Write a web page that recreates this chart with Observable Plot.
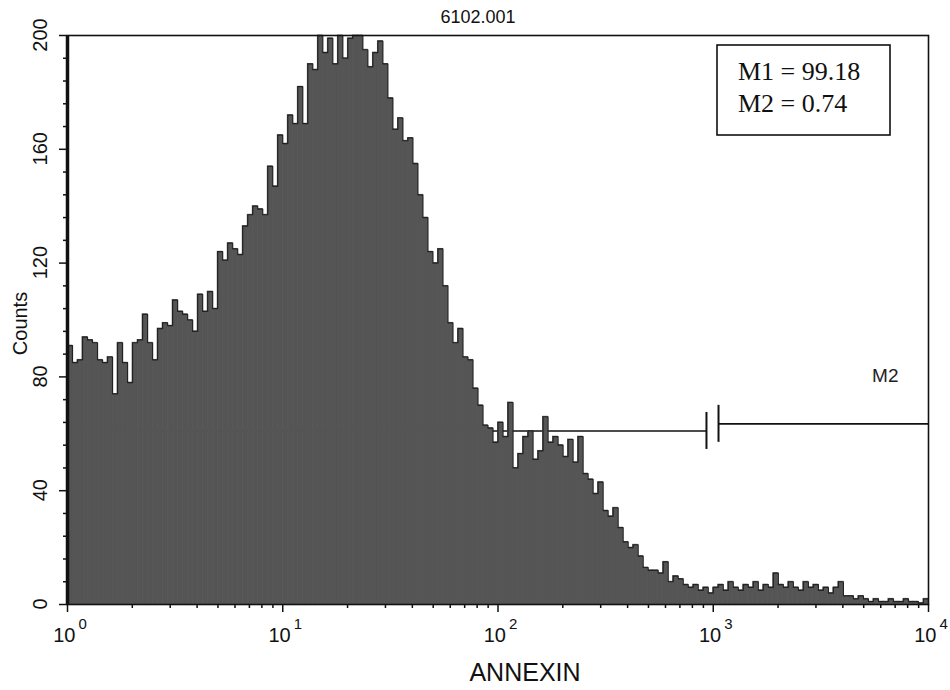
<!DOCTYPE html>
<html><head><meta charset="utf-8">
<script src="https://cdn.jsdelivr.net/npm/d3@7"></script>
<script src="https://cdn.jsdelivr.net/npm/@observablehq/plot@0.6"></script>
<style>
html,body{margin:0;padding:0;background:#fff;}
</style>
</head><body><div id="chart"></div>
<script>
const title = "6102.001";
const xLabel = "ANNEXIN";
const yLabel = "Counts";
const channelsPerDecade = 43;
const counts = [
  91,85,86,94,93,92,86,85,87,74,
  92,85,78,92,93,102,92,86,97,99,
  98,107,103,102,100,96,109,103,110,104,
  124,121,127,125,123,133,137,140,139,137,
  154,147,165,162,172,169,182,169,190,188,
  200,194,199,190,200,192,199,200,200,195,
  189,194,198,190,178,167,171,163,164,155,
  144,136,124,120,125,112,99,92,97,87,
  86,76,70,63,62,57,64,59,71,48,
  53,59,61,51,54,66,57,59,56,52,
  58,50,59,46,44,39,43,33,31,34,
  27,22,20,21,17,13,12,12,11,15,
  8,10,9,7,6,7,5,6,4,6,
  7,5,8,6,5,7,6,8,5,7,
  6,11,7,6,8,6,5,8,6,7,
  5,6,4,6,8,3,3,2,3,2,
  1,2,1,1,2,1,1,2,1,1,
  0.5,2
];
const xMajor = [1, 10, 100, 1000, 10000];
const xExponents = ["0", "1", "2", "3", "4"];
const xMinor = [2,3,4,5,6,7,8,9, 20,30,40,50,60,70,80,90, 200,300,400,500,600,700,800,900, 2000,3000,4000,5000,6000,7000,8000,9000];
const yMajor = [0, 40, 80, 120, 160, 200];
const yMinor = [8,16,24,32, 48,56,64,72, 88,96,104,112, 128,136,144,152, 168,176,184,192];
const markerNames = ["M1", "M2"];
const markerStart = [1, 1058];
const markerEnd = [930, 10000];
const markerLevel = [61, 63.5];
const markerPercent = ["99.18", "0.74"];

const bins = counts.map((c, i) => ({
  x1: Math.pow(10, i / channelsPerDecade),
  x2: Math.pow(10, (i + 1) / channelsPerDecade),
  count: c
}));
const outline = bins.map(b => ({x: b.x1, y: b.count}));
outline.push({x: bins[bins.length - 1].x2, y: bins[bins.length - 1].count});

const markers = markerNames.map((n, i) => ({name: n, start: markerStart[i], end: markerEnd[i], level: markerLevel[i]}));
const markerTicks = [
  {x: markerEnd[0], level: markerLevel[0]},
  {x: markerStart[1], level: markerLevel[1]}
];

const SANS = "'Liberation Sans', Arial, sans-serif";

function findDims(args) {
  return args.find(a => a && a.marginRight !== undefined && a.width !== undefined);
}
function findScales(args) {
  return args.find(a => a && typeof a.y === "function" && typeof a.x === "function");
}

function statsBox(...args) {
  const dims = findDims(args);
  const right = dims.width - dims.marginRight;
  const top = dims.marginTop;
  const g = d3.create("svg:g");
  g.append("rect")
    .attr("x", right - 211).attr("y", top + 10)
    .attr("width", 173).attr("height", 90)
    .attr("fill", "white").attr("stroke", "#111").attr("stroke-width", 1.6);
  markerNames.forEach((n, i) => {
    g.append("text")
      .attr("x", right - 190).attr("y", top + 45 + i * 32)
      .attr("text-anchor", "start")
      .attr("font-family", "'Liberation Serif', 'Times New Roman', serif")
      .attr("font-size", 26).attr("fill", "#111")
      .text(`${n} = ${markerPercent[i]}`);
  });
  return g.node();
}

function rotatedYLabels(...args) {
  const dims = findDims(args);
  const scales = findScales(args);
  const left = dims.marginLeft;
  const top = dims.marginTop;
  const bottom = dims.height - dims.marginBottom;
  const g = d3.create("svg:g")
    .attr("font-family", SANS).attr("fill", "#111").attr("text-anchor", "middle");
  yMajor.forEach(v => {
    g.append("text")
      .attr("transform", `translate(${left - 27},${scales.y(v)}) rotate(-90)`)
      .attr("dy", "0.35em").attr("font-size", 20)
      .text(String(v));
  });
  g.append("text")
    .attr("transform", `translate(${left - 47},${(top + bottom) / 2 + 4}) rotate(-90)`)
    .attr("dy", "0.35em").attr("font-size", 20)
    .text(yLabel);
  return g.node();
}

const chart = Plot.plot({
  width: 950,
  height: 690,
  marginLeft: 67,
  marginRight: 22,
  marginTop: 35,
  marginBottom: 86,
  style: {fontFamily: SANS, background: "white", color: "#111"},
  x: {type: "log", domain: [1, 10000]},
  y: {domain: [0, 200]},
  marks: [
    Plot.ruleY(markers, {x1: "start", x2: "end", y: "level", stroke: "#111", strokeWidth: 1.6}),
    Plot.rectY(bins, {x1: "x1", x2: "x2", y: "count", fill: "#555", stroke: "#555", strokeWidth: 0.8}),
    Plot.lineY(outline, {x: "x", y: "y", curve: "step-after", stroke: "#222", strokeWidth: 1.2}),
    Plot.ruleX(markerTicks, {x: "x", y1: d => d.level - 6.5, y2: d => d.level + 6.5, stroke: "#111", strokeWidth: 2}),
    Plot.text(markers.slice(1), {x: "end", y: "level", text: "name", textAnchor: "end", dx: -30, dy: -48, fontSize: 19, fill: "#222"}),
    Plot.frame({stroke: "#111", strokeWidth: 1.6}),
    Plot.ruleX([xMajor[0]], {x: d => d, stroke: "#111", strokeWidth: 3.5}),
    Plot.axisX({ticks: xMajor, tickFormat: () => "", tickSize: 8, label: null, stroke: "#111", strokeWidth: 1.5}),
    Plot.axisX({ticks: xMinor, tickFormat: () => "", tickSize: 4, label: null, stroke: "#111", strokeWidth: 1.5}),
    Plot.axisY({ticks: yMajor, tickFormat: () => "", tickSize: 8, label: null, stroke: "#111", strokeWidth: 1.5}),
    Plot.axisY({ticks: yMinor, tickFormat: () => "", tickSize: 4, label: null, stroke: "#111", strokeWidth: 1.5}),
    Plot.text(xMajor, {x: d => d, text: () => "10", frameAnchor: "bottom", dx: 8, dy: 31, textAnchor: "end", lineAnchor: "middle", fontSize: 20, fill: "#111"}),
    Plot.text(xMajor, {x: d => d, text: (d, i) => xExponents[i], frameAnchor: "bottom", dx: 11, dy: 20, textAnchor: "start", lineAnchor: "middle", fontSize: 15, fill: "#111"}),
    Plot.text([xLabel], {text: d => d, frameAnchor: "bottom", dx: 27, dy: 68, textAnchor: "middle", lineAnchor: "middle", fontSize: 25, fill: "#111"}),
    Plot.text([title], {text: d => d, frameAnchor: "top", dx: -20, dy: -18, textAnchor: "middle", lineAnchor: "middle", fontSize: 18, fill: "#111"}),
    rotatedYLabels,
    statsBox
  ]
});
document.getElementById("chart").appendChild(chart);
</script>
</body></html>
